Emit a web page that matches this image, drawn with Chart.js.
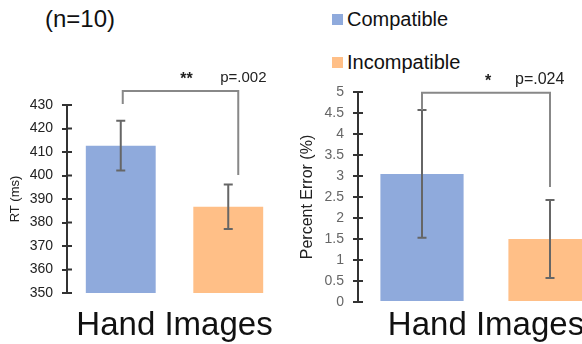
<!DOCTYPE html>
<html>
<head>
<meta charset="utf-8">
<script src="https://cdn.jsdelivr.net/npm/chart.js"></script>
<style>
  html, body { margin: 0; padding: 0; overflow: hidden; background: #fff; }
  body { width: 582px; height: 344px; position: relative; font-family: "Liberation Sans", Arial, sans-serif; color: #111; }
  #rtChart { position: absolute; left: 0; top: 0; }
  #errChart { position: absolute; left: 290px; top: 0; }
  #nLabel { position: absolute; left: 45px; top: 5px; font-size: 24px; line-height: 28px; color: #111; }
  .leg { position: absolute; left: 332px; font-size: 20px; line-height: 24px; color: #111; white-space: nowrap; }
  .leg span { display: inline-block; width: 11px; height: 11px; margin-right: 4px; vertical-align: 1px; }
</style>
</head>
<body>
<div id="nLabel">(n=10)</div>
<div id="legend"></div>
<canvas id="rtChart" width="290" height="344"></canvas>
<canvas id="errChart" width="340" height="344"></canvas>
<script>
// data
var groups = ["Hand Images"];
var conditions = ["Compatible", "Incompatible"];
var conditionColors = ["#8FAADC", "#FFBF87"];
var rtMeans = [412.7, 386.7];
var rtErrors = [10.6, 9.5];
var errMeans = [3.05, 1.5];
var errErrors = [1.52, 0.93];

Chart.defaults.font.family = "'Liberation Sans', Arial, sans-serif";

// legend (shared by both panels)
var leg = document.getElementById("legend");
var legTops = [7, 50];
for (var i = 0; i < conditions.length; i++) {
  leg.innerHTML += '<div class="leg" style="top:' + legTops[i] + 'px"><span style="background:' +
    conditionColors[i] + '"></span>' + conditions[i] + '</div>';
}

function makeSets(means, errs) {
  var sets = [];
  for (var i = 0; i < conditions.length; i++) {
    sets.push({
      label: conditions[i],
      data: [means[i]],
      errors: [errs[i]],
      backgroundColor: conditionColors[i],
      borderWidth: 0,
      categoryPercentage: 1.0,
      barPercentage: 0.65
    });
  }
  return sets;
}

var errorBars = {
  id: "errorBars",
  afterDatasetsDraw: function (chart, args, opts) {
    var ctx = chart.ctx, y = chart.scales.y;
    ctx.save();
    ctx.strokeStyle = opts.color;
    ctx.lineWidth = opts.width;
    chart.data.datasets.forEach(function (ds, i) {
      var bar = chart.getDatasetMeta(i).data[0];
      var hi = y.getPixelForValue(ds.data[0] + ds.errors[0]);
      var lo = y.getPixelForValue(ds.data[0] - ds.errors[0]);
      ctx.beginPath();
      ctx.moveTo(bar.x, hi); ctx.lineTo(bar.x, lo);
      ctx.moveTo(bar.x - opts.cap, hi); ctx.lineTo(bar.x + opts.cap, hi);
      ctx.moveTo(bar.x - opts.cap, lo); ctx.lineTo(bar.x + opts.cap, lo);
      ctx.stroke();
    });
    ctx.restore();
  }
};

// significance bracket + labels
var sigBracket = {
  id: "sigBracket",
  afterDraw: function (chart, args, o) {
    var ctx = chart.ctx, y = chart.scales.y;
    var x1 = chart.getDatasetMeta(0).data[0].x + o.shift[0];
    var x2 = chart.getDatasetMeta(1).data[0].x + o.shift[1];
    var top = y.getPixelForValue(o.top);
    ctx.save();
    ctx.strokeStyle = "#888";
    ctx.lineWidth = 2;
    ctx.beginPath();
    ctx.moveTo(x1, y.getPixelForValue(o.ends[0]));
    ctx.lineTo(x1, top);
    ctx.lineTo(x2, top);
    ctx.lineTo(x2, y.getPixelForValue(o.ends[1]));
    ctx.stroke();
    ctx.fillStyle = "#222";
    ctx.textBaseline = "alphabetic";
    ctx.font = "bold 16px 'Liberation Sans', Arial, sans-serif";
    ctx.textAlign = "center";
    ctx.fillText(o.stars, (x1 + x2) / 2 + o.starsDx, top - 7);
    ctx.font = o.pFont;
    ctx.textAlign = "left";
    ctx.fillText(o.p, x2 + o.pDx, top - 9);
    ctx.restore();
  }
};

// tick marks that cross the axis line
var crossTicks = {
  id: "crossTicks",
  afterDraw: function (chart) {
    var ctx = chart.ctx, y = chart.scales.y, x = chart.chartArea.left;
    ctx.save();
    ctx.strokeStyle = "#333";
    ctx.lineWidth = 2;
    ctx.beginPath();
    y.ticks.forEach(function (t, i) {
      var py = y.getPixelForTick(i);
      ctx.moveTo(x, py); ctx.lineTo(x + 5, py);
    });
    ctx.stroke();
    ctx.restore();
  }
};

function panel(id, means, errs, yOpt, pad, yWidth, xHeight, labelColor, titleSize, bracket) {
  return new Chart(document.getElementById(id), {
    type: "bar",
    data: { labels: groups, datasets: makeSets(means, errs) },
    plugins: [errorBars, sigBracket, crossTicks],
    options: {
      responsive: false,
      animation: false,
      layout: { padding: pad },
      plugins: {
        legend: { display: false },
        tooltip: { enabled: false },
        errorBars: { color: "#666", width: 2, cap: 4.5 },
        sigBracket: bracket
      },
      scales: {
        x: {
          grid: { display: false },
          border: { display: false },
          ticks: { display: false },
          title: {
            display: true,
            text: groups[0],
            color: "#111",
            font: { size: 33, lineHeight: 1 },
            padding: { top: 0, bottom: 2 }
          },
          afterFit: function (s) { s.height = xHeight; }
        },
        y: {
          min: yOpt.min,
          max: yOpt.max,
          ticks: {
            stepSize: yOpt.step, color: labelColor, font: { size: 14 }, padding: 9,
            callback: function (v) { return String(v); }
          },
          grid: { drawOnChartArea: false, drawTicks: true, tickLength: 5, color: "#333", lineWidth: 2 },
          border: { display: true, color: "#333", width: 2 },
          title: {
            display: true,
            text: yOpt.title,
            color: "#222",
            font: { size: titleSize },
            padding: { top: yOpt.titlePad, bottom: 0 }
          },
          afterFit: function (s) { s.width = yWidth; }
        }
      }
    }
  });
}

panel("rtChart", rtMeans, rtErrors,
  { min: 350, max: 430, step: 10, title: "RT (ms)", titlePad: 8 },
  { top: 105, right: 8, left: 0, bottom: 0 }, 67, 51, "#222", 13,
  { top: 436, ends: [430.4, 400.2], shift: [2, 10], stars: "**", starsDx: 6, p: "p=.002", pDx: -18,
    pFont: "15px 'Liberation Sans', Arial, sans-serif" });

panel("errChart", errMeans, errErrors,
  { min: 0, max: 5, step: 0.5, title: "Percent Error (%)", titlePad: 8 },
  { top: 92, right: 16, left: 0, bottom: 0 }, 68, 42, "#666", 16,
  { top: 4.98, ends: [4.57, 2.74], shift: [0, 0], stars: "*", starsDx: 2, p: "p=.024", pDx: -35,
    pFont: "16px 'Liberation Sans', Arial, sans-serif" });
</script>
</body>
</html>
